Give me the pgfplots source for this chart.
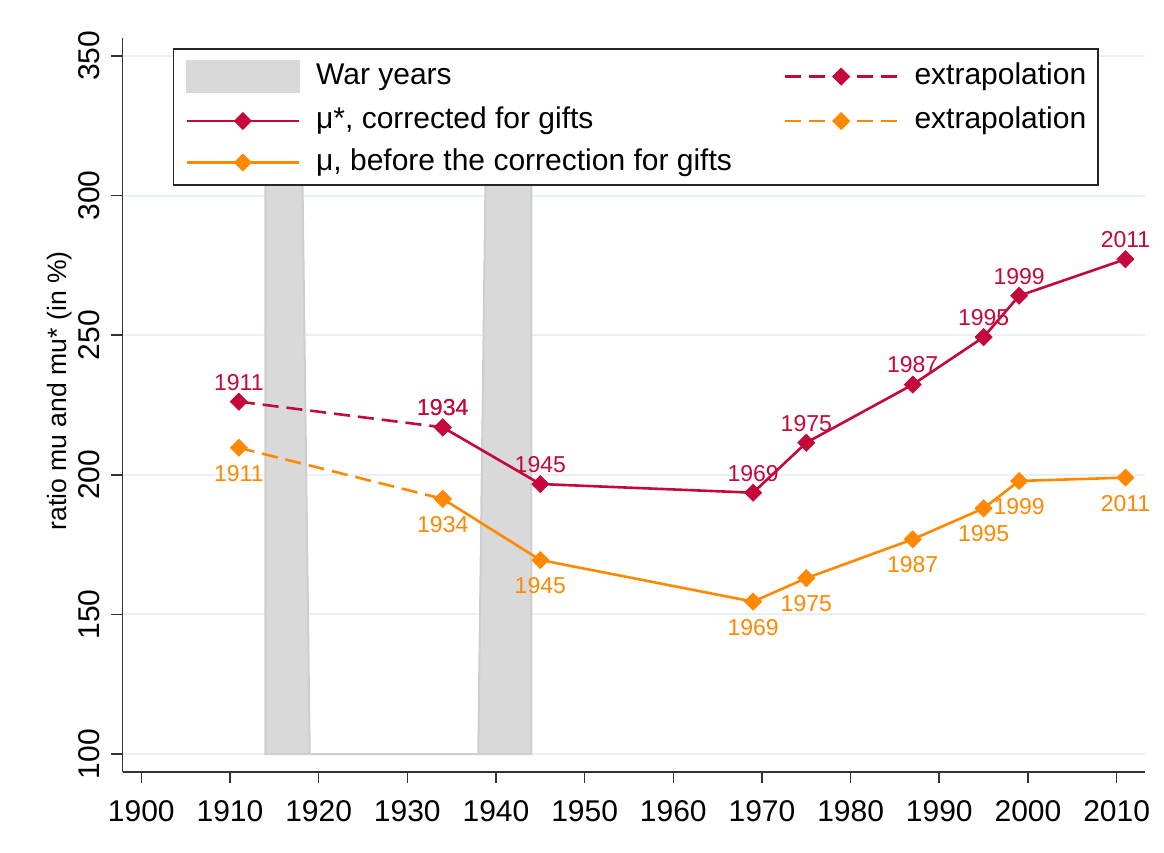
\documentclass[border=0pt]{standalone}
\usepackage{pgfplots}
\pgfplotsset{compat=1.18}
\usepackage{fontspec}
\setmainfont{Liberation Sans}
\definecolor{cran}{RGB}{196,8,58}
\definecolor{orng}{RGB}{255,136,0}
\definecolor{wargray}{RGB}{217,217,217}
\definecolor{wargrayd}{RGB}{206,206,206}
\definecolor{gridc}{RGB}{232,240,242}
\begin{document}
\begin{tikzpicture}
\begin{axis}[
  scale only axis,
  width=511.2pt, height=366.9pt,
  xmin=1897.9, xmax=2013.2,
  ymin=93.7, ymax=356.4,
  axis x line*=bottom, axis y line*=left,
  axis line style={black!80, line width=0.8pt, -},
  xtick={1900,1910,...,2010},
  ytick={100,150,...,350},
  tick align=outside,
  major tick length=5.75pt,
  tick style={black!80, line width=0.8pt},
  /pgf/number format/assume math mode=true,
  /pgf/number format/1000 sep={},
  ticklabel style={font=\fontsize{15}{18}\selectfont},
  xticklabel style={anchor=north, inner sep=0pt},
  xticklabel shift=8.5pt,
  yticklabel style={rotate=90, anchor=south, inner sep=0pt},
  yticklabel shift=5.3pt,
  ymajorgrids,
  grid style={gridc, line width=1pt},
  ylabel={ratio mu and mu* (in \%)},
  ylabel style={font=\fontsize{13.3}{16}\selectfont, at={(axis description cs:-0.0613,0.519)}, anchor=center},
  legend columns=2,
  legend cell align=left,
  legend style={at={(0.049,0.986)}, anchor=north west, draw=black!85, line width=0.8pt, fill=white,
    font=\fontsize{15}{18}\selectfont, inner xsep=6pt, inner ysep=4.5pt, row sep=4.75pt,
    nodes={inner sep=0pt, text height=13pt, text depth=3pt},
    /tikz/every odd column/.append style={column sep=8pt},
    /tikz/every even column/.append style={column sep=26pt}},
  legend image code/.code={\draw[mark repeat=2,mark phase=2,#1] plot coordinates {(0pt,-1.25pt)(28pt,-1.25pt)(56pt,-1.25pt)};},
  point meta=explicit symbolic,
]
% War years
\addplot[fill=wargray, draw=wargrayd, line width=1pt,
  legend image code/.code={\fill[wargray] (0pt,-9pt) rectangle (56pt,6.5pt);}]
  coordinates {(1914,100)(1914,350)(1918,350)(1919,100)(1938,100)(1939,350)(1944,350)(1944,100)} -- cycle;
\addlegendentry{War years}
% red extrapolation
\addplot[cran, line width=1.3pt, dash pattern=on 8pt off 4pt,
  mark=square*, mark size=3pt, mark options={rotate=45, solid, fill=cran, line width=0.4pt},
  nodes near coords, every node near coord/.append style={anchor=south, inner sep=0pt, yshift=5.5pt, font=\fontsize{11.5}{13}\selectfont, text=cran}]
  coordinates {(1911,226.2) [1911] (1934,217.0) [1934]};
\addlegendentry{extrapolation}
% red solid
\addplot[cran, line width=1.3pt,
  mark=square*, mark size=3pt, mark options={rotate=45, solid, fill=cran, line width=0.4pt},
  nodes near coords, every node near coord/.append style={anchor=south, inner sep=0pt, yshift=5.5pt, font=\fontsize{11.5}{13}\selectfont, text=cran}]
  coordinates {(1934,217.0) [1934] (1945,196.7) [1945] (1969,193.6) [1969] (1975,211.5) [1975]
    (1987,232.3) [1987] (1995,249.3) [1995] (1999,264.1) [1999] (2011,277.2) [2011]};
\addlegendentry{μ*, corrected for gifts}
% orange extrapolation
\addplot[orng, line width=1.3pt, dash pattern=on 8pt off 4pt,
  mark=square*, mark size=3pt, mark options={rotate=45, solid, fill=orng, line width=0.4pt},
  nodes near coords, every node near coord/.append style={anchor=north, inner sep=0pt, yshift=-8.5pt, font=\fontsize{11.5}{13}\selectfont, text=orng}]
  coordinates {(1911,209.7) [1911] (1934,191.4) []};
\addlegendentry{extrapolation}
% orange solid
\addplot[orng, line width=1.3pt,
  mark=square*, mark size=3pt, mark options={rotate=45, solid, fill=orng, line width=0.4pt},
  nodes near coords, every node near coord/.append style={anchor=north, inner sep=0pt, yshift=-8.5pt, font=\fontsize{11.5}{13}\selectfont, text=orng}]
  coordinates {(1934,191.4) [1934] (1945,169.5) [1945] (1969,154.6) [1969] (1975,163.0) [1975]
    (1987,176.9) [1987] (1995,188.0) [1995] (1999,197.8) [1999] (2011,199.0) [2011]};
\addlegendentry{μ, before the correction for gifts}
\end{axis}
\path (-61.35pt,-40.15pt) rectangle (520.7pt,385.9pt);
\end{tikzpicture}
\end{document}
